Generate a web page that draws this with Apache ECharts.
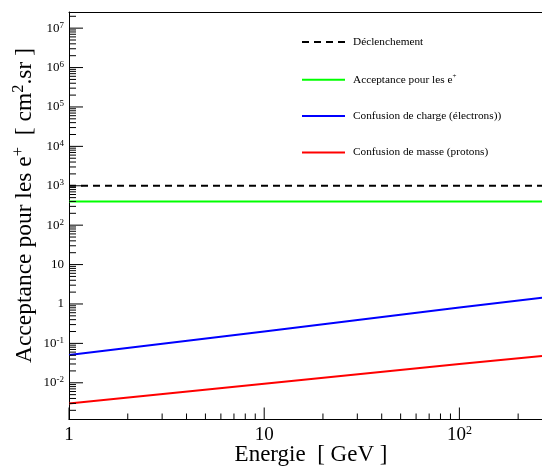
<!DOCTYPE html>
<html><head><meta charset="utf-8">
<script src="https://cdn.jsdelivr.net/npm/echarts@6/dist/echarts.min.js"></script>
<style>html,body{margin:0;padding:0;background:#fff}#c{width:542px;height:468px}</style>
</head><body><div id="c"></div>
<script>
// ---- data ----
const energy = [1, 10, 100, 265];
const declenchement = [1000, 1000, 1000, 1000];
const acceptance = [400, 400, 400, 400];
const confusionCharge = [0.051, 0.2, 0.81, 1.45];
const confusionMasse = [0.003, 0.0095, 0.03, 0.048];
const seriesNames = ['Déclenchement', 'Acceptance pour les e+', 'Confusion de charge (électrons))', 'Confusion de masse (protons)'];
const xTickValues = [1, 10, 100];
const xTickLabels = ['1', '10', '10^2'];
const yTickValues = [0.01, 0.1, 1, 10, 100, 1000, 10000, 100000, 1000000, 10000000];
const yTickLabels = ['10^-2', '10^-1', '1', '10', '10^2', '10^3', '10^4', '10^5', '10^6', '10^7'];
const xRange = [1, 265];
const yRange = [0.00117, 25700000];

const FONT = 'Liberation Serif';
const colors = ['#000000', '#00ff00', '#0000ff', '#ff0000'];

function pairs(ys) { return energy.map((e, i) => [e, ys[i]]); }
function rich(label) {
  const i = label.indexOf('^');
  if (i < 0) return '{b|' + label + '}';
  return '{b|' + label.slice(0, i) + '}{s|' + label.slice(i + 1) + '}';
}

// tick descriptors: [x, y, axis(0=y,1=x), major, labelIndex]
const tickData = [];
yTickValues.forEach((v, i) => tickData.push([xRange[0], v, 0, 1, i]));
xTickValues.forEach((v, i) => tickData.push([v, yRange[0], 1, 1, i]));
for (let k = -3; k <= 7; k++) for (let m = 2; m <= 9; m++) {
  const v = m * Math.pow(10, k);
  if (v > yRange[0] && v < yRange[1]) tickData.push([xRange[0], v, 0, 0, -1]);
}
for (let k = 0; k <= 2; k++) for (let m = 2; m <= 9; m++) {
  const v = m * Math.pow(10, k);
  if (v > xRange[0] && v < xRange[1]) tickData.push([v, yRange[0], 1, 0, -1]);
}

const chart = echarts.init(document.getElementById('c'), null, {renderer: 'canvas'});
const lineSeries = [declenchement, acceptance, confusionCharge, confusionMasse].map((d, i) => ({
  name: seriesNames[i],
  type: 'line',
  data: pairs(d),
  symbol: 'none',
  silent: true,
  animation: false,
  color: colors[i],
  lineStyle: {color: colors[i], width: 2, type: i === 0 ? [7, 5] : 'solid'},
  z: 3
}));

chart.setOption({
  animation: false,
  backgroundColor: '#ffffff',
  grid: {left: 69, right: 0, top: 12, bottom: 48.5, containLabel: false},
  xAxis: [
    {type: 'log', min: xRange[0], max: xRange[1], axisLine: {show: true, lineStyle: {color: '#000', width: 1}},
     axisTick: {show: false}, axisLabel: {show: false}, splitLine: {show: false}},
    {type: 'log', position: 'top', min: xRange[0], max: xRange[1], axisLine: {show: true, lineStyle: {color: '#000', width: 1}},
     axisTick: {show: false}, axisLabel: {show: false}, splitLine: {show: false}}
  ],
  yAxis: {type: 'log', min: yRange[0], max: yRange[1], axisLine: {show: true, lineStyle: {color: '#000', width: 1}},
    axisTick: {show: false}, axisLabel: {show: false}, splitLine: {show: false}},
  legend: {
    orient: 'vertical', left: 301, top: 36.5, padding: 0, itemWidth: 43, itemHeight: 14, itemGap: 25.1,
    itemStyle: {opacity: 0},
    data: seriesNames,
    formatter: function (name) {
      if (name === seriesNames[1]) return '{t|Acceptance pour les e}{s|+}';
      return '{t|' + name + '}';
    },
    textStyle: {
      fontFamily: FONT, fontSize: 11.3, color: '#000', padding: [0, 0, 0, 3],
      rich: {
        t: {fontFamily: FONT, fontSize: 11.3, color: '#000', lineHeight: 14},
        s: {fontFamily: FONT, fontSize: 7, color: '#000', verticalAlign: 'top', lineHeight: 10}
      }
    }
  },
  graphic: [
    {type: 'text', x: 311, y: 455, style: {
      text: 'Energie  [ GeV ]', font: '23px "' + FONT + '"', fill: '#000', textAlign: 'center', textVerticalAlign: 'middle'}},
    {type: 'text', x: 24.5, y: 205.5, rotation: Math.PI / 2, style: {
      text: '{t|Acceptance pour les e}{s|+}{t|  [ cm}{s|2}{t|.sr ]}',
      textAlign: 'center', textVerticalAlign: 'middle', fill: '#000',
      rich: {
        t: {fontFamily: FONT, fontSize: 23.5, fill: '#000', lineHeight: 28},
        s: {fontFamily: FONT, fontSize: 16.5, fill: '#000', verticalAlign: 'top', lineHeight: 18}
      }}}
  ],
  series: lineSeries.concat([{
    type: 'custom',
    name: 'ticks',
    silent: true,
    clip: false,
    animation: false,
    data: tickData,
    z: 4,
    renderItem: function (params, api) {
      const axis = api.value(2), major = api.value(3), li = api.value(4);
      const p = api.coord([api.value(0), api.value(1)]);
      const children = [];
      if (axis === 0) {
        const len = major ? 14 : 7;
        children.push({type: 'line', shape: {x1: p[0], y1: p[1], x2: p[0] + len, y2: p[1]}, style: {stroke: '#000', lineWidth: 1}});
        if (major && li >= 0) {
          children.push({type: 'text', x: p[0] - 5, y: p[1], style: {
            text: rich(yTickLabels[li]), textAlign: 'right', textVerticalAlign: 'middle', fill: '#000',
            rich: {b: {fontFamily: FONT, fontSize: 13, fill: '#000', lineHeight: 15},
                   s: {fontFamily: FONT, fontSize: 9, fill: '#000', verticalAlign: 'top', lineHeight: 10}}}});
        }
      } else {
        const len = major ? 12 : 6;
        children.push({type: 'line', shape: {x1: p[0], y1: p[1], x2: p[0], y2: p[1] - len}, style: {stroke: '#000', lineWidth: 1}});
        if (major && li >= 0) {
          children.push({type: 'text', x: p[0], y: p[1] + 5, style: {
            text: rich(xTickLabels[li]), textAlign: 'center', textVerticalAlign: 'top', fill: '#000',
            rich: {b: {fontFamily: FONT, fontSize: 19, fill: '#000', lineHeight: 21},
                   s: {fontFamily: FONT, fontSize: 12, fill: '#000', verticalAlign: 'top', lineHeight: 12}}}});
        }
      }
      return {type: 'group', children: children};
    }
  }])
});
</script>
</body></html>
